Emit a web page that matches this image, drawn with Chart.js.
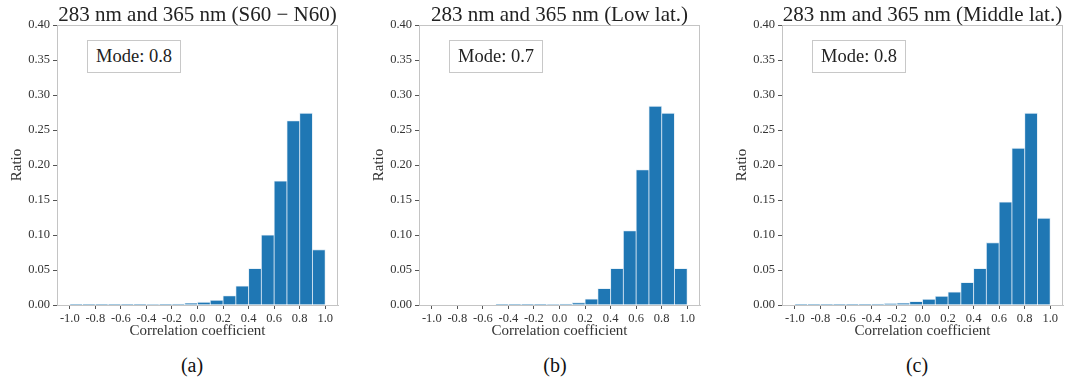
<!DOCTYPE html>
<html>
<head>
<meta charset="utf-8">
<script src="https://cdn.jsdelivr.net/npm/chart.js@4.4.0/dist/chart.umd.min.js"></script>
<style>
  body { margin: 0; background: #fff; width: 1069px; height: 387px; position: relative; overflow: hidden; font-family: "Liberation Serif", serif; }
  .wrap { position: absolute; top: 0; width: 343px; height: 345px; }
  .ttl { position: absolute; top: 2px; width: 281px; text-align: center; font-size: 21px; color: #222; white-space: nowrap; }
  .mode { position: absolute; top: 40px; width: 92px; height: 31px; border: 1px solid #c8c8c8; font-size: 18.5px; line-height: 31px; text-align: center; color: #222; background: #fff; }
  .cap { position: absolute; top: 354px; font-size: 20px; color: #111; transform: translateX(-50%); }
</style>
</head>
<body>
<div class="wrap" style="left:0px"><canvas id="chartA"></canvas></div>
<div class="wrap" style="left:362px"><canvas id="chartB"></canvas></div>
<div class="wrap" style="left:725px"><canvas id="chartC"></canvas></div>

<div class="ttl" style="left:57px">283 nm and 365 nm (S60 − N60)</div>
<div class="ttl" style="left:419px">283 nm and 365 nm (Low lat.)</div>
<div class="ttl" style="left:782px">283 nm and 365 nm (Middle lat.)</div>

<div class="mode" style="left:87px">Mode: 0.8</div>
<div class="mode" style="left:449px">Mode: 0.7</div>
<div class="mode" style="left:812px">Mode: 0.8</div>

<div class="cap" style="left:192px">(a)</div>
<div class="cap" style="left:555px">(b)</div>
<div class="cap" style="left:917px">(c)</div>

<script>
// bin centres of the histograms (bin width 0.1)
const binCenters = [-0.95, -0.85, -0.75, -0.65, -0.55, -0.45, -0.35, -0.25, -0.15, -0.05,
  0.05, 0.15, 0.25, 0.35, 0.45, 0.55, 0.65, 0.75, 0.85, 0.95];

const ratioAll = [0.0001, 0.0001, 0.0001, 0.0001, 0.0002, 0.0003, 0.0006, 0.001, 0.0014, 0.0024,
  0.004, 0.0067, 0.013, 0.027, 0.052, 0.100, 0.177, 0.263, 0.274, 0.079];
const ratioLow = [0, 0, 0, 0, 0, 0.0001, 0.0001, 0.0002, 0.0004, 0.0008,
  0.0014, 0.0033, 0.0086, 0.0234, 0.052, 0.106, 0.193, 0.284, 0.274, 0.052];
const ratioMid = [0.0001, 0.0001, 0.0001, 0.0002, 0.0005, 0.001, 0.0014, 0.0019, 0.0029, 0.0048,
  0.0081, 0.0124, 0.0186, 0.032, 0.052, 0.089, 0.147, 0.224, 0.274, 0.124];

const xTicks = [-1.0, -0.8, -0.6, -0.4, -0.2, 0.0, 0.2, 0.4, 0.6, 0.8, 1.0];

const serif = "'Liberation Serif', serif";

const frame = {
  id: "frame",
  afterDraw(chart) {
    const { ctx, chartArea: a } = chart;
    ctx.save();
    ctx.strokeStyle = "#c4c4c4";
    ctx.lineWidth = 1;
    ctx.strokeRect(a.left + 0.5, a.top + 0.5, a.right - a.left - 1, a.bottom - a.top);
    ctx.restore();
  },
};

const makeHist = (id, values) => {
  const ctx = document.getElementById(id).getContext("2d");
  return new Chart(ctx, {
    type: "bar",
    data: {
      datasets: [
        {
          data: binCenters.map((x, i) => ({ x: x, y: values[i] })),
          backgroundColor: "#1f77b4",
          borderColor: "rgba(190,215,235,0.6)",
          borderWidth: 0.8,
          barPercentage: 1,
          categoryPercentage: 1,
        },
      ],
    },
    options: {
      responsive: true,
      maintainAspectRatio: false,
      animation: false,
      layout: { padding: { top: 25, right: 5, left: 0, bottom: 0 } },
      plugins: { legend: { display: false }, tooltip: { enabled: false } },
      scales: {
        x: {
          type: "linear",
          offset: false,
          min: -1.1,
          max: 1.1,
          afterBuildTicks: (s) => { s.ticks = xTicks.map((v) => ({ value: v })); },
          afterFit: (s) => { s.height = 40; },
          grid: { offset: false, drawOnChartArea: false, drawTicks: true, tickLength: 4, color: "#555" },
          border: { color: "#c4c4c4" },
          ticks: {
            autoSkip: false,
            maxRotation: 0,
            padding: 2,
            color: "#333",
            font: { family: serif, size: 12.5 },
            callback: (v) => v.toFixed(1),
          },
          title: {
            display: true,
            text: "Correlation coefficient",
            color: "#333",
            font: { family: serif, size: 15 },
            padding: { top: 0, bottom: 5 },
          },
        },
        y: {
          min: 0,
          max: 0.4,
          afterFit: (s) => { s.width = 57; },
          grid: { drawOnChartArea: false, drawTicks: true, tickLength: 4, color: "#555" },
          border: { color: "#c4c4c4" },
          ticks: {
            stepSize: 0.05,
            padding: 3,
            color: "#333",
            font: { family: serif, size: 12.5 },
            callback: (v) => v.toFixed(2),
          },
          title: {
            display: true,
            text: "Ratio",
            color: "#333",
            font: { family: serif, size: 15 },
            padding: { top: 8, bottom: 0 },
          },
        },
      },
    },
    plugins: [frame],
  });
};

makeHist("chartA", ratioAll);
makeHist("chartB", ratioLow);
makeHist("chartC", ratioMid);
</script>
</body>
</html>
